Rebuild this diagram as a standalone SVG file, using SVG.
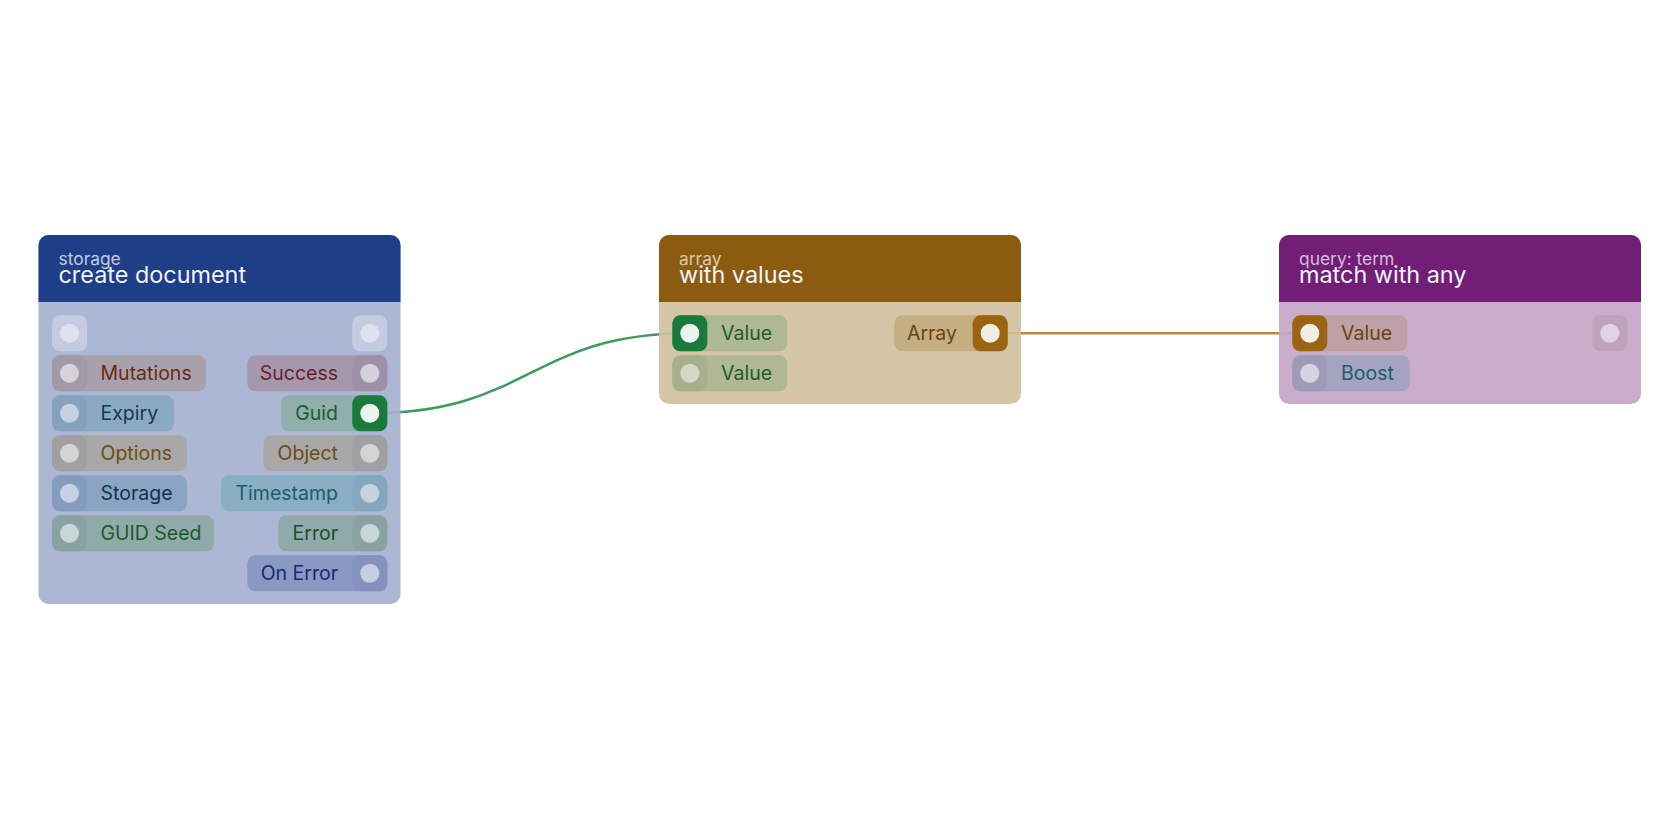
<svg xmlns="http://www.w3.org/2000/svg" width="1680" height="840" viewBox="0 0 1680 840">
<style>
  text { font-family: Inter, "Noto Sans", "Liberation Sans", sans-serif; }
  .sub { font-size: 17.4px; }
  .title { font-size: 23.4px; fill: #F2F3F8; }
  .lbl { font-size: 19.5px; }
  .r { text-anchor: end; }
  .pill { rx: 8px; ry: 8px; }
  .port { rx: 8px; ry: 8px; }
  .dot { r: 9.5px; }
  .wire { fill: none; stroke-width: 2.5; stroke-linecap: round; }
</style>
<rect width="1680" height="840" fill="#FFFFFF"/>

<g id="connectors">
  <path class="wire" stroke="#3E9A5E" d="M369.5,413.3 C530,413.3 530,333.3 689.8,333.3"/>
  <path class="wire" stroke="#B8893C" d="M990,333.3 L1310,333.3"/>
</g>

<g id="node-create-document">
  <rect x="38.5" y="235" width="362" height="369" rx="10" fill="#A5B2CF" fill-opacity="0.92"/>
  <path d="M38.5,302 V245 A10,10 0 0 1 48.5,235 H390.5 A10,10 0 0 1 400.5,245 V302 Z" fill="#1E3F88"/>
  <text class="sub" x="58.5" y="264.5" fill="#C3CBE2">storage</text>
  <text class="title" x="58.5" y="282.5">create document</text>

  <!-- row 0 -->
  <rect class="port" x="52" y="315.3" width="35" height="36" fill="#C5CCE1"/>
  <circle class="dot" cx="69.5" cy="333.3" fill="#DFE2EE"/>
  <rect class="port" x="352.3" y="315.3" width="35" height="36" fill="#C5CCE1"/>
  <circle class="dot" cx="369.8" cy="333.3" fill="#DFE2EE"/>

  <!-- left inputs -->
  <rect class="pill" x="52" y="355.3" width="154" height="36" fill="#A8A1AC"/>
  <rect class="port" x="52" y="355.3" width="35" height="36" fill="#A099A6"/>
  <circle class="dot" cx="69.5" cy="373.3" fill="#D6D2DA"/>
  <text class="lbl" x="100.5" y="380.3" fill="#6B2A12">Mutations</text>

  <rect class="pill" x="52" y="395.3" width="122" height="36" fill="#8CA9C4"/>
  <rect class="port" x="52" y="395.3" width="35" height="36" fill="#86A1BE"/>
  <circle class="dot" cx="69.5" cy="413.3" fill="#C6D2E0"/>
  <text class="lbl" x="100.5" y="420.3" fill="#0F3B4F">Expiry</text>

  <rect class="pill" x="52" y="435.3" width="135" height="36" fill="#A8A8A8"/>
  <rect class="port" x="52" y="435.3" width="35" height="36" fill="#A0A0A2"/>
  <circle class="dot" cx="69.5" cy="453.3" fill="#D4D4D4"/>
  <text class="lbl" x="100.5" y="460.3" fill="#6B4E12">Options</text>

  <rect class="pill" x="52" y="475.3" width="135" height="36" fill="#8AA4C4"/>
  <rect class="port" x="52" y="475.3" width="35" height="36" fill="#849DBE"/>
  <circle class="dot" cx="69.5" cy="493.3" fill="#C6D0E0"/>
  <text class="lbl" x="100.5" y="500.3" fill="#0F3350">Storage</text>

  <rect class="pill" x="52" y="515.3" width="162" height="36" fill="#8FAAA8"/>
  <rect class="port" x="52" y="515.3" width="35" height="36" fill="#89A3A3"/>
  <circle class="dot" cx="69.5" cy="533.3" fill="#C8D6D6"/>
  <text class="lbl" x="100.5" y="540.3" fill="#1B5A2E">GUID Seed</text>

  <!-- right outputs -->
  <rect class="pill" x="247.3" y="355.3" width="140" height="36" fill="#A698AC"/>
  <rect class="port" x="352.3" y="355.3" width="35" height="36" fill="#9E90A6"/>
  <circle class="dot" cx="369.8" cy="373.3" fill="#D6D0DC"/>
  <text class="lbl r" x="338" y="380.3" fill="#6B1D2E">Success</text>

  <rect class="pill" x="281" y="395.3" width="106.3" height="36" fill="#8FAEAC"/>
  <rect class="port" x="352.3" y="395.3" width="35" height="36" fill="#1A7A3C"/>
  <circle class="dot" cx="369.8" cy="413.3" fill="#E8F4EC"/>
  <text class="lbl r" x="338" y="420.3" fill="#1B5E2E">Guid</text>

  <rect class="pill" x="263.3" y="435.3" width="124" height="36" fill="#A8A8A8"/>
  <rect class="port" x="352.3" y="435.3" width="35" height="36" fill="#A0A0A2"/>
  <circle class="dot" cx="369.8" cy="453.3" fill="#D4D4D4"/>
  <text class="lbl r" x="338" y="460.3" fill="#6B4E12">Object</text>

  <rect class="pill" x="221" y="475.3" width="166.3" height="36" fill="#8AAEC4"/>
  <rect class="port" x="352.3" y="475.3" width="35" height="36" fill="#84A7BE"/>
  <circle class="dot" cx="369.8" cy="493.3" fill="#C6D4E0"/>
  <text class="lbl r" x="338" y="500.3" fill="#1B5C6E">Timestamp</text>

  <rect class="pill" x="278.3" y="515.3" width="109" height="36" fill="#8FAAA8"/>
  <rect class="port" x="352.3" y="515.3" width="35" height="36" fill="#89A3A3"/>
  <circle class="dot" cx="369.8" cy="533.3" fill="#C8D6D6"/>
  <text class="lbl r" x="338" y="540.3" fill="#1B4E2E">Error</text>

  <rect class="pill" x="247.3" y="555.3" width="140" height="36" fill="#8A98C4"/>
  <rect class="port" x="352.3" y="555.3" width="35" height="36" fill="#8492BE"/>
  <circle class="dot" cx="369.8" cy="573.3" fill="#C8CEE2"/>
  <text class="lbl r" x="338" y="580.3" fill="#1A2A6E">On Error</text>
</g>

<g id="node-with-values">
  <rect x="659" y="235" width="362" height="169" rx="10" fill="#D0C09E" fill-opacity="0.9"/>
  <path d="M659,302 V245 A10,10 0 0 1 669,235 H1011 A10,10 0 0 1 1021,245 V302 Z" fill="#8B5C10"/>
  <text class="sub" x="679" y="264.5" fill="#DCC8A6">array</text>
  <text class="title" x="679" y="282.5">with values</text>

  <rect class="pill" x="672.3" y="315.3" width="115" height="36" fill="#AEB894"/>
  <rect class="port" x="672.3" y="315.3" width="35" height="36" fill="#1A7A3C"/>
  <circle class="dot" cx="689.8" cy="333.3" fill="#E8F4EC"/>
  <text class="lbl" x="721" y="340.3" fill="#1B5A2E">Value</text>

  <rect class="pill" x="672.3" y="355.3" width="115" height="36" fill="#AEB894"/>
  <rect class="port" x="672.3" y="355.3" width="35" height="36" fill="#A6B08C"/>
  <circle class="dot" cx="689.8" cy="373.3" fill="#D4D8C8"/>
  <text class="lbl" x="721" y="380.3" fill="#1B5A2E">Value</text>

  <rect class="pill" x="894.3" y="315.3" width="113.4" height="36" fill="#C4AE82"/>
  <rect class="port" x="972.7" y="315.3" width="35" height="36" fill="#9A6410"/>
  <circle class="dot" cx="990.2" cy="333.3" fill="#F2EEE6"/>
  <text class="lbl r" x="957" y="340.3" fill="#6B4210">Array</text>
</g>

<g id="node-match-with-any">
  <rect x="1279" y="235" width="362" height="169" rx="10" fill="#C6A6C7" fill-opacity="0.92"/>
  <path d="M1279,302 V245 A10,10 0 0 1 1289,235 H1631 A10,10 0 0 1 1641,245 V302 Z" fill="#701E76"/>
  <text class="sub" x="1299" y="264.5" fill="#D6BCDA">query: term</text>
  <text class="title" x="1299" y="282.5">match with any</text>

  <rect class="pill" x="1292.3" y="315.3" width="115" height="36" fill="#BEA0A6"/>
  <rect class="port" x="1292.3" y="315.3" width="35" height="36" fill="#9A6410"/>
  <circle class="dot" cx="1309.8" cy="333.3" fill="#F4EFE6"/>
  <text class="lbl" x="1341" y="340.3" fill="#6B4210">Value</text>

  <rect class="pill" x="1292.3" y="355.3" width="117.4" height="36" fill="#A4A4C0"/>
  <rect class="port" x="1292.3" y="355.3" width="35" height="36" fill="#9C9CB8"/>
  <circle class="dot" cx="1309.8" cy="373.3" fill="#D4D4E2"/>
  <text class="lbl" x="1341" y="380.3" fill="#1B5C6B">Boost</text>

  <rect class="port" x="1592.3" y="315.3" width="35" height="36" fill="#BEA2BE"/>
  <circle class="dot" cx="1609.8" cy="333.3" fill="#E0D2E2"/>
</g>
</svg>
